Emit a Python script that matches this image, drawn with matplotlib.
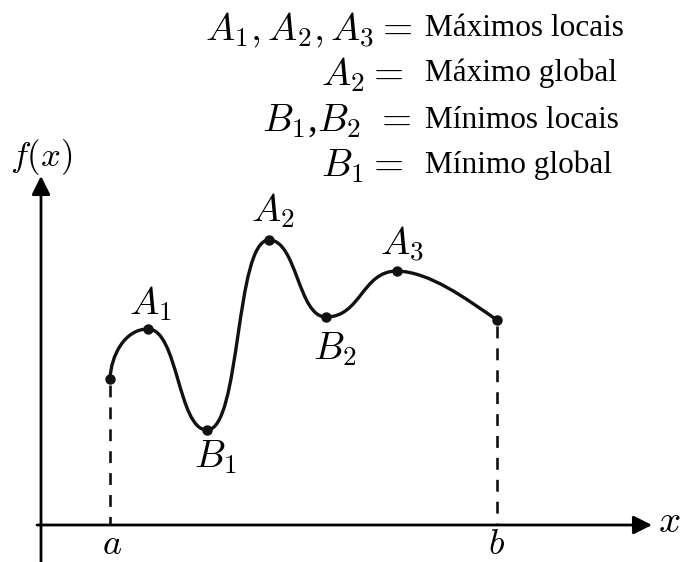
import matplotlib
matplotlib.use('Agg')
import matplotlib.pyplot as plt
from matplotlib.path import Path
from matplotlib.patches import PathPatch

plt.rcParams['mathtext.fontset'] = 'cm'
plt.rcParams['font.family'] = ['Liberation Serif', 'DejaVu Serif']

# key points of the curve (pixel-like coords, y grows downward)
pt_names = ['start', 'A1', 'B1', 'A2', 'B2', 'A3', 'end']
pt_x = [110, 148, 207, 269, 326, 397, 497]
pt_y = [379, 329, 430, 240, 317, 271, 320]

# bezier handles for each segment (c1, c2)
handles = [((111, 355), (125, 329)),
           ((178, 329), (178, 430)),
           ((241, 430), (235, 240)),
           ((297, 240), (298, 317)),
           ((361, 317), (362, 271)),
           ((430, 272), (465, 298))]

labels = ['$A_1$', '$B_1$', '$A_2$', '$B_2$', '$A_3$']
label_pos = [(150, 304), (215, 458), (273, 211), (335, 350), (402, 244)]

legend_math = ['$A_1, A_2, A_3 =$', '$A_2 =$', '$B_1$,$B_2\\ =$', '$B_1 =$']
legend_text = ['Máximos locais', 'Máximo global', 'Mínimos locais', 'Mínimo global']
legend_y = [30, 75, 122, 167]
legend_right = [413, 403, 411, 403]

fig = plt.figure(figsize=(6.8, 5.62), dpi=100)
ax = fig.add_axes([0, 0, 1, 1])
ax.set_xlim(0, 680)
ax.set_ylim(562, 0)
ax.axis('off')

# axes with arrows
ax.annotate('', xy=(41, 176), xytext=(41, 562),
            arrowprops=dict(arrowstyle='-|>', mutation_scale=28, lw=2, color='black',
                            shrinkA=0, shrinkB=0))
ax.annotate('', xy=(652, 525), xytext=(37, 525),
            arrowprops=dict(arrowstyle='-|>', mutation_scale=28, lw=2, color='black',
                            shrinkA=0, shrinkB=0))

# curve
verts = [(pt_x[0], pt_y[0])]
codes = [Path.MOVETO]
for i, (c1, c2) in enumerate(handles):
    verts += [c1, c2, (pt_x[i + 1], pt_y[i + 1])]
    codes += [Path.CURVE4] * 3
ax.add_patch(PathPatch(Path(verts, codes), fill=False, lw=2.4, edgecolor='#111111'))
ax.plot(pt_x, pt_y, 'o', color='#111111', ms=6.5)

# dashed drops to the x axis
for i in [0, -1]:
    ax.plot([pt_x[i], pt_x[i]], [pt_y[i] + 6, 525], color='#111111', lw=1.9,
            dashes=(4.5, 3.8))

for lab, (x, y) in zip(labels, label_pos):
    ax.text(x, y, lab, fontsize=28, ha='center', va='center')

ax.text(112, 546, '$a$', fontsize=26, ha='center', va='center')
ax.text(497, 545, '$b$', fontsize=26, ha='center', va='center')
ax.text(669, 523, '$x$', fontsize=28, ha='center', va='center')
ax.text(41, 157, '$f(x)$', fontsize=25, ha='center', va='center')

for m, t, y, r in zip(legend_math, legend_text, legend_y, legend_right):
    ax.text(r, y, m, fontsize=28, ha='right', va='center')
    ax.text(425, y - 2, t, fontsize=22.5, ha='left', va='center')

fig.savefig('out.png', dpi=100)
